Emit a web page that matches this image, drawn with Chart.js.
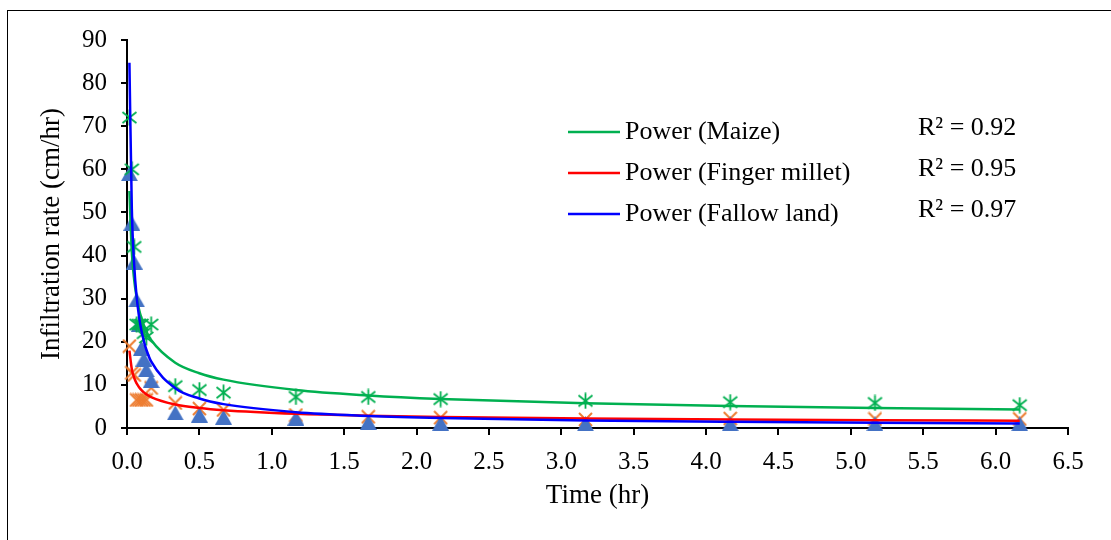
<!DOCTYPE html>
<html>
<head>
<meta charset="utf-8">
<script src="https://cdn.jsdelivr.net/npm/chart.js@4.4.0/dist/chart.umd.min.js"></script>
<style>
  html, body { margin: 0; padding: 0; background: #fff; overflow: hidden; }
  #wrap { position: relative; width: 1111px; height: 540px; }
</style>
</head>
<body>
<div id="wrap"><canvas id="myChart" width="1111" height="540"></canvas></div>
<script>
// measurement times (hr)
const timeHr = [0.0167, 0.0333, 0.05, 0.0667, 0.0833, 0.1, 0.1167, 0.1333, 0.1667,
                0.3333, 0.5, 0.6667, 1.1667, 1.6667, 2.1667, 3.1667, 4.1667, 5.1667, 6.1667];

// infiltration rate (cm/hr) per land use
const maizeRate  = [72, 60, 42, 24, 24, 24, 22, 21, 24, 9.7, 8.8, 8.2, 7.2, 7.2, 6.7, 6.3, 6.0, 5.8, 5.3];
const milletRate = [19, 12.8, 12.3, 6.5, 6.5, 6.5, 6.5, 6.5, 9.3, 5.8, 4.5, 4.2, 3.0, 2.6, 2.4, 2.0, 2.2, 2.1, 2.1];
const fallowRate = [59, 47.5, 38.5, 29.7, 24, 18.5, 16, 13.5, 11, 3.5, 3.0, 2.5, 2.3, 1.3, 1.1, 1.0, 1.0, 1.0, 1.0];

// power trendlines y = a * t^b (Maize, Finger millet, Fallow land)
const trendNames = ['Power (Maize)', 'Power (Finger millet)', 'Power (Fallow land)'];
const trendA = [9.42, 3.51, 4.1];
const trendB = [-0.431, -0.399, -0.74];
const rSquared = ['R\u00B2 = 0.92', 'R\u00B2 = 0.95', 'R\u00B2 = 0.97'];

// tick labels
const xTickLabels = ['0.0', '0.5', '1.0', '1.5', '2.0', '2.5', '3.0', '3.5', '4.0', '4.5', '5.0', '5.5', '6.0', '6.5'];
const yTickLabels = ['0', '10', '20', '30', '40', '50', '60', '70', '80', '90'];

const FONT = 'Liberation Serif, Times New Roman, serif';
const lineColors = ['#00B050', '#FF0000', '#0000FF'];

function pairs(ys) {
  return timeHr.map((t, i) => ({ x: t, y: ys[i] }));
}
function trendPoints(k) {
  return timeHr.map(t => ({ x: t, y: trendA[k] * Math.pow(t, trendB[k]) }));
}

// marker images
function starMarker(color) {
  const c = document.createElement('canvas');
  c.width = 17; c.height = 17;
  const g = c.getContext('2d');
  g.strokeStyle = color; g.lineWidth = 1.8;
  g.beginPath();
  g.moveTo(8.5, 0.5); g.lineTo(8.5, 16.5);
  g.moveTo(1.5, 3); g.lineTo(15.5, 14);
  g.moveTo(15.5, 3); g.lineTo(1.5, 14);
  g.stroke();
  return c;
}
function crossMarker(color) {
  const c = document.createElement('canvas');
  c.width = 15; c.height = 15;
  const g = c.getContext('2d');
  g.strokeStyle = color; g.lineWidth = 2;
  g.beginPath();
  g.moveTo(1, 1); g.lineTo(14, 14);
  g.moveTo(14, 1); g.lineTo(1, 14);
  g.stroke();
  return c;
}
function triangleMarker(color) {
  const c = document.createElement('canvas');
  c.width = 17; c.height = 15;
  const g = c.getContext('2d');
  g.fillStyle = color;
  g.beginPath();
  g.moveTo(8.5, 0); g.lineTo(17, 15); g.lineTo(0, 15);
  g.closePath(); g.fill();
  return c;
}

const framePlugin = {
  id: 'framePlugin',
  beforeDraw(chart) {
    const ctx = chart.ctx;
    ctx.save();
    ctx.fillStyle = '#fff';
    ctx.fillRect(0, 0, chart.width, chart.height);
    ctx.strokeStyle = '#000';
    ctx.lineWidth = 1;
    ctx.strokeRect(7.5, 10.5, chart.width + 20, chart.height + 20);
    ctx.restore();
  },
  afterDraw(chart) {
    const ctx = chart.ctx;
    const rowsY = [132, 173, 214];
    const r2Y = [128, 169, 210];
    ctx.save();
    ctx.font = '26px ' + FONT;
    ctx.textBaseline = 'middle';
    ctx.fillStyle = '#000';
    trendNames.forEach((name, i) => {
      ctx.strokeStyle = lineColors[i];
      ctx.lineWidth = 2.5;
      ctx.beginPath();
      ctx.moveTo(568, rowsY[i]);
      ctx.lineTo(620, rowsY[i]);
      ctx.stroke();
      ctx.fillText(name, 625, rowsY[i]);
      ctx.fillText(rSquared[i], 918, r2Y[i]);
    });
    ctx.restore();
  }
};

const ctx = document.getElementById('myChart').getContext('2d');

new Chart(ctx, {
  type: 'scatter',
  data: {
    datasets: [
      { label: trendNames[2], data: trendPoints(2), showLine: true, borderColor: lineColors[2], borderWidth: 2.5,
        pointRadius: 0, cubicInterpolationMode: 'monotone', order: 0 },
      { label: trendNames[1], data: trendPoints(1), showLine: true, borderColor: lineColors[1], borderWidth: 2.5,
        pointRadius: 0, cubicInterpolationMode: 'monotone', order: 1 },
      { label: trendNames[0], data: trendPoints(0), showLine: true, borderColor: lineColors[0], borderWidth: 2.5,
        pointRadius: 0, cubicInterpolationMode: 'monotone', order: 2 },
      { label: 'Maize', data: pairs(maizeRate), pointStyle: starMarker('#00B050'), pointRadius: 8, clip: false, order: 3 },
      { label: 'Fallow land', data: pairs(fallowRate), pointStyle: triangleMarker('#4472C4'), pointRadius: 8, clip: false, order: 4 },
      { label: 'Finger millet', data: pairs(milletRate), pointStyle: crossMarker('#ED7D31'), pointRadius: 8, clip: false, order: 5 }
    ]
  },
  options: {
    responsive: false,
    animation: false,
    events: [],
    layout: { padding: { top: 40, right: 43, left: 0, bottom: 0 } },
    plugins: { legend: { display: false }, tooltip: { enabled: false } },
    scales: {
      x: {
        type: 'linear', min: 0, max: 6.5,
        ticks: {
          stepSize: 0.5, autoSkip: false, maxRotation: 0, color: '#000', padding: 12,
          font: { family: FONT, size: 25 },
          callback: (v, i) => xTickLabels[i]
        },
        grid: { drawOnChartArea: false, drawTicks: true, tickLength: 7, color: '#000', lineWidth: 2 },
        border: { display: true, color: '#000', width: 2 },
        title: { display: true, text: 'Time (hr)', color: '#000', font: { family: FONT, size: 27 },
                 padding: { top: 0, bottom: 28 } },
        afterFit(scale) { scale.height = 112; }
      },
      y: {
        min: 0, max: 90,
        ticks: {
          stepSize: 10, color: '#000', padding: 14,
          font: { family: FONT, size: 25 },
          callback: (v, i) => yTickLabels[i]
        },
        grid: { drawOnChartArea: false, drawTicks: true, tickLength: 6, color: '#000', lineWidth: 2 },
        border: { display: true, color: '#000', width: 2 },
        title: { display: true, text: 'Infiltration rate (cm/hr)', color: '#000', font: { family: FONT, size: 27 },
                 padding: { top: 36, bottom: 0 } },
        afterFit(scale) { scale.width = 127; }
      }
    }
  },
  plugins: [framePlugin]
});
</script>
</body>
</html>
